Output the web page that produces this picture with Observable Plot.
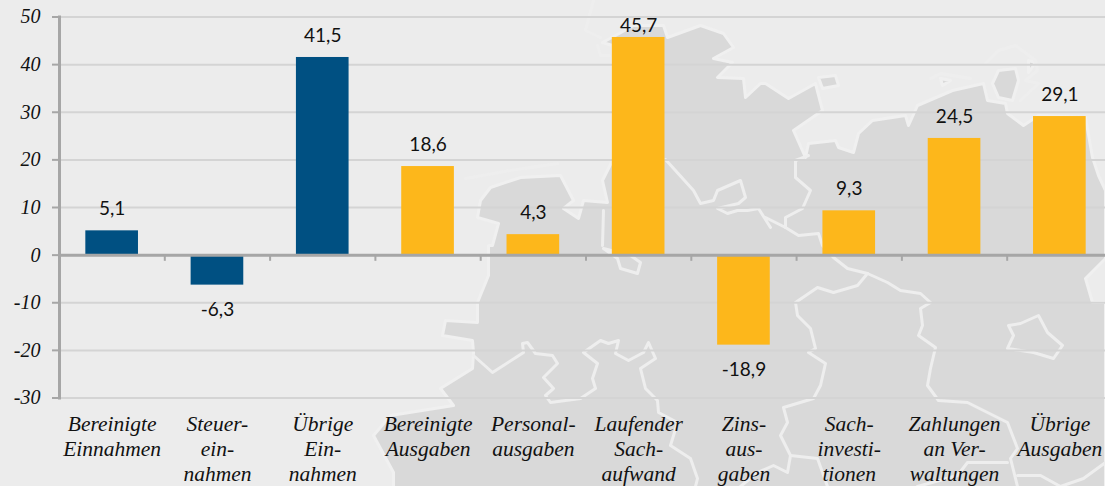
<!DOCTYPE html>
<html lang="de">
<head>
<meta charset="utf-8">
<script src="https://cdn.jsdelivr.net/npm/d3@7"></script>
<script src="https://cdn.jsdelivr.net/npm/@observablehq/plot@0.6"></script>
<style>
  html, body { margin: 0; padding: 0; background: #ececec; overflow: hidden; }
  #stage { position: relative; width: 1105px; height: 486px; }
  #stage svg { position: absolute; left: 0; top: 0; background: transparent; }
</style>
</head>
<body>
<div id="stage"></div>
<script>
// Chart data
const categories = ["Bereinigte\nEinnahmen", "Steuer-\nein-\nnahmen", "Übrige\nEin-\nnahmen", "Bereinigte\nAusgaben", "Personal-\nausgaben", "Laufender\nSach-\naufwand", "Zins-\naus-\ngaben", "Sach-\ninvesti-\ntionen", "Zahlungen\nan Ver-\nwaltungen", "Übrige\nAusgaben"];
const values = [5.1, -6.3, 41.5, 18.6, 4.3, 45.7, -18.9, 9.3, 24.5, 29.1];
const groups = ["e", "e", "e", "a", "a", "a", "a", "a", "a", "a"];
const yTicks = [50, 40, 30, 20, 10, 0, -10, -20, -30];

// Decorative background map outlines, traced in picture pixels
const mapLand = [[393,486],[393,472],[373,435],[390,415],[453,405],[440,388],[472,368],[473,352],[472,340],[442,335],[445,320],[477,322],[477,302],[488,275],[488,245],[492,245],[498,223],[477,217],[480,200],[490,187],[520,177],[560,175],[573,200],[563,208],[578,218],[583,200],[607,202],[602,180],[612,160],[612,45],[602,42],[615,35],[633,25],[663,25],[667,37],[700,25],[723,33],[733,47],[713,58],[732,62],[717,77],[743,78],[745,97],[760,83],[765,83],[788,98],[815,83],[822,110],[793,130],[805,157],[808,143],[835,140],[838,147],[853,152],[858,133],[872,120],[905,115],[908,125],[917,105],[952,90],[983,83],[987,100],[1005,103],[1007,113],[1023,125],[1038,115],[1085,117],[1092,157],[1098,175],[1105,190],[1105,258],[1085,278],[1092,302],[1105,302],[1105,486]];
const mapIslandA = [[818,77],[835,75],[838,85],[822,88]];
const mapIslandB = [[998,70],[1015,68],[1018,80],[1012,100],[998,97],[992,83]];
const mapIslandC = [[1028,60],[1035,62],[1028,72]];
const mapIslandD = [[940,78],[950,80],[942,85]];
const mapBorders = [
  [[665,159],[693,190],[700,203],[713,200],[717,190],[740,180],[745,197],[738,203],[717,208],[727,213],[737,210],[747,210],[758,208],[770,227]],
  [[765,217],[785,227],[785,217],[802,208],[810,190],[795,177],[795,160],[808,155]],
  [[785,227],[798,235],[818,233],[822,245],[833,257],[847,268],[867,273],[887,282],[900,290],[920,293],[930,302],[920,308],[922,325],[918,335],[935,347],[930,368],[927,385],[938,400],[967,402],[1007,422],[1017,448],[1010,458],[1017,486]],
  [[867,273],[857,285],[833,292],[817,287],[795,302],[797,315],[810,328],[815,348],[808,352],[825,363],[820,385],[813,398],[783,407],[787,422],[780,435],[790,455],[787,472],[773,465],[757,472],[740,486]],
  [[790,455],[817,458],[827,486]],
  [[1007,462],[967,462],[957,475],[917,486]],
  [[1017,475],[1040,475],[1060,486]],
  [[1060,486],[1083,478],[1105,462]],
  [[473,355],[492,372],[523,352],[522,343],[527,342],[535,353],[552,355],[557,363],[543,377],[553,388],[545,395],[550,402],[580,398],[595,388],[592,378],[597,363],[583,352],[600,340],[608,343],[618,340],[615,353],[628,360],[643,352],[648,342],[655,358],[640,368],[645,388],[657,400],[658,412],[677,422],[670,445],[690,458],[697,478],[695,486]],
  [[603,210],[602,245]],
  [[465,178],[510,170],[557,163]],
  [[593,0],[585,30],[600,37]],
  [[597,45],[600,55],[610,55]],
  [[1008,325],[1020,323],[1038,315],[1047,332],[1062,345],[1053,358],[1033,352],[1007,348],[1013,335],[1008,325]],
  [[603,248],[617,258],[620,268],[637,273],[640,262],[630,255],[603,248]],
  [[985,63],[998,50],[1015,45],[1035,60],[1037,70],[1025,80],[1038,83],[1020,100]],
  [[930,78],[940,73],[970,78]]
];

const px = d => d[0], py = d => d[1];
const mapStyle = {x: px, y: py, strokeLinejoin: "round", strokeLinecap: "round"};
const background = Plot.plot({
  width: 1105, height: 486, margin: 0,
  x: {type: "identity", axis: null},
  y: {type: "identity", axis: null},
  marks: [
    Plot.line(mapLand, {...mapStyle, fill: "#d9d9d9", stroke: "#f0f0f0", strokeWidth: 3}),
    ...[mapIslandA, mapIslandB, mapIslandC, mapIslandD].map(s =>
      Plot.line([...s, s[0]], {...mapStyle, fill: "#d9d9d9", stroke: "#f0f0f0", strokeWidth: 3})),
    ...mapBorders.map(s => Plot.line(s, {...mapStyle, stroke: "#eeeeee", strokeWidth: 3}))
  ]
});

const table = categories.map((c, i) => ({c, v: values[i], g: groups[i]}));
const label = v => String(v).replace(".", ",");
const serif = "'Liberation Serif', serif";
const valueText = {x: "c", y: "v", text: d => label(d.v), fontFamily: "Lato", fontSize: 19, fill: "#111"};

const chart = Plot.plot({
  width: 1105, height: 486,
  marginLeft: 59, marginRight: 0, marginTop: 16.5, marginBottom: 88.5,
  style: {background: "transparent", overflow: "visible"},
  x: {domain: categories, range: [59, 1112], paddingInner: 0.5, paddingOuter: 0.25, round: false, axis: null, label: null},
  y: {domain: [-30, 50], range: [397.5, 16.5], axis: null, label: null},
  color: {domain: ["e", "a"], range: ["#005082", "#fdb71b"]},
  marks: [
    Plot.ruleY(yTicks, {stroke: "#d4d4d4", strokeWidth: 2}),
    Plot.axisY({ticks: yTicks, tickFormat: () => "", tickSize: 7, stroke: "#a6a6a6", strokeWidth: 2, label: null}),
    Plot.text(yTicks, {y: d => d, text: d => String(d), frameAnchor: "left", textAnchor: "end", dx: -19,
      fontFamily: serif, fontStyle: "italic", fontSize: 20, fill: "#111"}),
    Plot.axisX({anchor: "bottom", tickSize: 0, tickPadding: 15, lineHeight: 1.17,
      fontFamily: serif, fontStyle: "italic", fontSize: 21.5, fill: "#111", label: null}),
    Plot.barY(table, {x: "c", y: "v", fill: "g"}),
    Plot.ruleY([0], {stroke: "#a6a6a6", strokeWidth: 3}),
    Plot.ruleX(categories, {x: d => d, y1: 0, y2: -1.3, dx: 52.65, stroke: "#a6a6a6", strokeWidth: 2}),
    Plot.frame({anchor: "left", stroke: "#a6a6a6", strokeWidth: 3}),
    Plot.text(table, {...valueText, filter: d => d.v >= 0 && d.v < 45, dy: -22}),
    Plot.text(table, {...valueText, filter: d => d.v >= 45, dy: -12}),
    Plot.text(table, {...valueText, filter: d => d.v < 0, dy: 25})
  ]
});

document.getElementById("stage").append(background, chart);
</script>
</body>
</html>
